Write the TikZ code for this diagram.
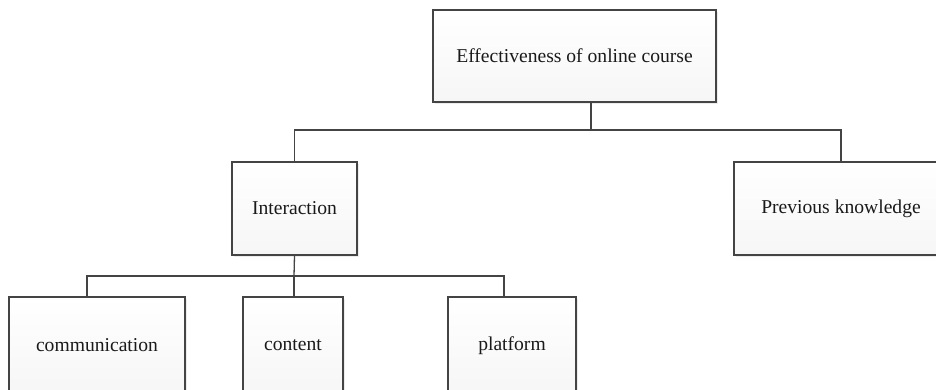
\documentclass[tikz,border=0pt]{standalone}
\usepackage{fontspec}
\setmainfont{Liberation Serif}
\usepackage{tikz}
\usetikzlibrary{shadows}
\definecolor{edge}{HTML}{444444}
\definecolor{ink}{HTML}{1A1A1A}
\tikzset{
  box/.style={draw=edge, line width=1.3pt, top color=white, bottom color=gray!7,
    drop shadow={shadow xshift=1.5pt, shadow yshift=-1.5pt, opacity=0.15},
    minimum height=93pt, inner sep=0pt, text=ink,
    font=\fontsize{19.6}{23}\selectfont},
  link/.style={draw=edge, line width=1.3pt}
}

\begin{document}
\begin{tikzpicture}[x=1pt, y=-1pt]
            \useasboundingbox (0,0) rectangle (936,389);
            \clip (0,0) rectangle (936,389);
            \fill[white] (0,0) rectangle (936,389);

            \node [box, minimum width=283pt, minimum height=92pt] (course) at (574.5,56) {Effectiveness of online course};
            \node [box, minimum width=125pt] (interaction) at (294.5,208.5) {Interaction};
            \node [box, minimum width=214pt] (previous) at (841,208.5) {Previous knowledge};
            \node [box, minimum width=176pt, minimum height=97pt] (communication) at (97,345.5) {communication};
            \node [box, minimum width=100pt, minimum height=97pt] (content) at (293,345.5) {content};
            \node [box, minimum width=128pt, minimum height=97pt] (platform) at (512,345.5) {platform};

            \coordinate (upper) at (591,130);
            \coordinate (lower) at (294,276);
            \coordinate (left) at (87,276);
            \coordinate (right) at (504,276);

            \draw[link] (upper |- course.south) -- (upper);
            \draw[link] (interaction.north) |- (upper) -| (previous.north);
            \draw[link] (interaction.south) -- (lower);
            \draw[link] (left |- communication.north) -- (left) -- (right) -- (right |- platform.north);
            \draw[link] (lower) -- (lower |- content.north);
        \end{tikzpicture}
\end{document}
